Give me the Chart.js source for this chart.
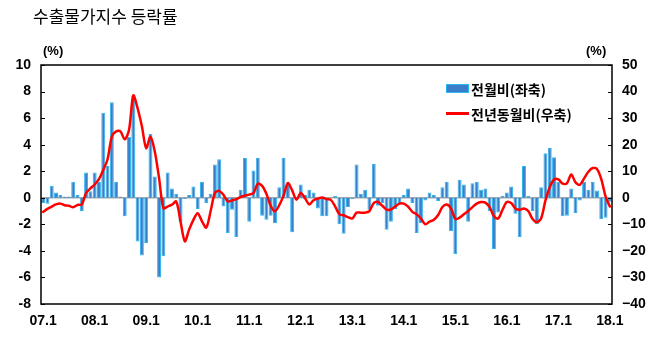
<!DOCTYPE html>
<html>
<head>
<meta charset="utf-8">
<script src="https://cdn.jsdelivr.net/npm/chart.js@4"></script>
<style>
  html, body { margin: 0; padding: 0; background: #fff; }
  #wrap { position: relative; width: 661px; height: 339px; overflow: hidden; }
  #title { position: absolute; left: 33px; top: 3px; font-family: 'Noto Sans CJK KR', sans-serif; font-size: 17px; font-weight: 400; color: #000; white-space: nowrap; }
  .unit { position: absolute; top: 43px; font-family: 'Liberation Sans', Arial, sans-serif; font-size: 13px; font-weight: bold; color: #000; }
  #legend { position: absolute; left: 446px; top: 76px; font-family: 'Noto Sans CJK KR', sans-serif; font-size: 14px; font-weight: bold; color: #000; }
  .lg { display: flex; align-items: center; height: 25px; white-space: nowrap; }
  .mk-bar { width: 21px; height: 7px; background: #3A7DC9; border: 1px solid #2DB7F0; margin-right: 2px; }
  .mk-line { width: 23px; height: 3px; background: #FF0000; margin-right: 2px; }
</style>
</head>
<body>
<div id="wrap">
  <canvas id="c" width="661" height="339"></canvas>
  <div id="title">수출물가지수 등락률</div>
  <div class="unit" style="left:43px;">(%)</div>
  <div class="unit" style="left:586px;">(%)</div>
  <div id="legend">
    <div class="lg"><span class="mk-bar"></span><span id="lg1"></span></div>
    <div class="lg"><span class="mk-line"></span><span id="lg2"></span></div>
  </div>
</div>
<script>
// ---- data ----
const startYear = 2007;
const monthCount = 133; // 2007.1 .. 2018.1
const categories = [];
for (let i = 0; i < monthCount; i++) {
  const y = startYear + Math.floor(i / 12);
  const m = (i % 12) + 1;
  categories.push(String(y % 100).padStart(2, '0') + '.' + m);
}
const seriesNames = ['전월비(좌축)', '전년동월비(우축)'];

// month-on-month change (left axis), %
const momChange = [
  -0.4, -0.45, 0.9, 0.4, 0.2, 0.1, 0.1, 1.2, 0.2, -1.0, 1.9, 0.5,
  1.9, 1.2, 6.4, 2.4, 7.2, 1.2, 0.1, -1.4, 4.6, 7.7, -3.3, -4.35,
  -3.4, 4.8, 1.6, -6.0, -4.4, 1.9, 0.7, 0.3, -1.8, -0.1, 0.2, 0.85,
  -0.85, 1.2, -0.4, 0.3, 2.5, 2.9, -0.65, -2.65, -0.9, -2.95, 0.6, 3.0,
  -1.8, 2.05, 3.0, -1.35, -1.65, -1.35, -1.9, 0.8, 3.0, 1.1, -2.6, 0.05,
  1.0, 0.2, 0.6, 0.4, -0.8, -1.4, -1.4, 0.0, 0.15, -2.0, -2.7, -0.7,
  -0.1, 2.5, 0.3, 0.6, -0.9, 2.55, -0.6, -0.4, -2.4, -1.8, -0.85, -0.5,
  0.2, 0.7, -0.4, -2.65, -1.9, -0.2, 0.4, 0.2, -0.25, 0.8, 1.2, -2.5,
  -4.25, 1.35, 1.0, -1.8, 1.1, 1.2, 0.6, 0.7, -1.0, -3.85, -1.1, 0.15,
  0.4, 0.85, -1.2, -2.95, 2.4, 0.15, -1.0, -2.0, 0.8, 3.35, 3.75, 3.05,
  1.2, -1.4, -1.35, 0.7, -1.15, -0.2, 1.2, 0.6, 1.2, 0.55, -1.6, -1.5,
  -0.3
];

// year-on-year change (right axis), %
const yoyChange = [
  -5.3, -4.2, -3.3, -2.5, -2.2, -2.8, -3.0, -3.6, -2.7, -2.5, 1.8, 3.5,
  5.0, 7.0, 10.5, 14.5, 23.0, 25.0, 25.0, 22.0, 25.5, 38.5, 33.7, 26.9,
  18.7, 23.0, 17.4, 7.4, -3.9, -3.3, -2.6, -1.4, -8.9, -16.4, -12.0, -8.3,
  -5.8, -8.9, -11.2, -5.1, 1.8, 2.6, 1.1, -1.4, -1.0, -0.5, 0.3, 0.8,
  1.2, 1.8, 5.3, 4.5, 1.5, -3.0, -5.1, -2.8, 0.8, 5.5, 2.8, -0.7,
  1.8, -0.2, -2.5, -0.9, -0.3, 0.1, -0.5, -0.8, -3.2, -6.2, -6.6, -7.3,
  -7.8, -5.6, -5.6, -5.6, -5.0, -2.0, -1.6, -3.0, -4.5, -4.4, -3.3, -2.2,
  -2.2, -3.3, -5.3, -6.2, -7.8, -10.0, -9.0, -8.3, -6.5, -3.5, -2.5, -4.0,
  -8.0, -7.5, -6.2, -5.0, -3.5, -2.2, -1.6, -1.8, -3.5, -7.0, -7.8, -4.5,
  -1.6, -2.0, -4.0, -4.5, -4.0, -5.0, -8.0, -9.2, -7.7, -1.0, 4.0, 6.9,
  6.9, 5.3, 5.4, 8.8, 5.8, 4.9, 7.3, 9.8, 11.2, 10.8, 7.0, 0.5,
  -3.3
];

const leftTicks = [-8, -6, -4, -2, 0, 2, 4, 6, 8, 10];
const rightTicks = [-40, -30, -20, -10, 0, 10, 20, 30, 40, 50];

document.getElementById('lg1').textContent = seriesNames[0];
document.getElementById('lg2').textContent = seriesNames[1];

// ---- styling plugins ----
const framePlugin = {
  id: 'frame',
  beforeDatasetsDraw(chart) {
    const { ctx, chartArea: a, scales } = chart;
    const y0 = scales.y.getPixelForValue(0);
    ctx.save();
    ctx.strokeStyle = '#A6A6A6';
    ctx.lineWidth = 1.5;
    ctx.beginPath(); ctx.moveTo(a.left, y0); ctx.lineTo(a.right, y0); ctx.stroke();
    ctx.restore();
  },
  afterDatasetsDraw(chart) {
    const { ctx, chartArea: a, scales } = chart;
    ctx.save();
    ctx.strokeStyle = '#000';
    ctx.lineWidth = 1.5;
    ctx.strokeRect(a.left, a.top, a.right - a.left, a.bottom - a.top);
    ctx.lineWidth = 1;
    leftTicks.forEach(v => {
      const p = Math.round(scales.y.getPixelForValue(v)) + 0.5;
      ctx.beginPath(); ctx.moveTo(a.left, p); ctx.lineTo(a.left + 4, p); ctx.stroke();
    });
    rightTicks.forEach(v => {
      const p = Math.round(scales.y1.getPixelForValue(v)) + 0.5;
      ctx.beginPath(); ctx.moveTo(a.right - 4, p); ctx.lineTo(a.right, p); ctx.stroke();
    });
    ctx.restore();
  }
};

const tickFont = { family: "'Liberation Sans', Arial, sans-serif", size: 14, weight: 'bold' };

new Chart(document.getElementById('c'), {
  data: {
    labels: categories,
    datasets: [
      {
        type: 'line', label: seriesNames[1], data: yoyChange, yAxisID: 'y1',
        borderColor: '#FF0000', borderWidth: 2.5, pointRadius: 0, tension: 0.3,
        order: 1, borderJoinStyle: 'round', borderCapStyle: 'round'
      },
      {
        type: 'bar', label: seriesNames[0], data: momChange, yAxisID: 'y',
        backgroundColor: '#3A7DC9', borderColor: '#2DB7F0', borderWidth: 1,
        barPercentage: 0.92, categoryPercentage: 1.0, order: 2
      }
    ]
  },
  options: {
    responsive: false,
    animation: false,
    layout: { padding: { top: 65, left: 0, right: 0, bottom: 0 } },
    plugins: { legend: { display: false }, tooltip: { enabled: false }, title: { display: false } },
    scales: {
      x: {
        type: 'category', offset: true,
        grid: { display: false, drawTicks: false },
        border: { display: false },
        ticks: {
          autoSkip: false, maxRotation: 0, minRotation: 0, padding: 9, color: '#000', font: tickFont,
          callback: function (v, i) { const l = categories[i]; return l.endsWith('.1') && l.split('.')[1] === '1' ? l : null; }
        },
        afterFit: s => { s.height = 35; }
      },
      y: {
        position: 'left', min: -8, max: 10,
        grid: { display: false, drawTicks: false },
        border: { display: false },
        afterBuildTicks: s => { s.ticks = leftTicks.map(v => ({ value: v })); },
        ticks: { padding: 10, color: '#000', font: tickFont },
        afterFit: s => { s.width = 41; }
      },
      y1: {
        position: 'right', min: -40, max: 50,
        grid: { display: false, drawTicks: false },
        border: { display: false },
        afterBuildTicks: s => { s.ticks = rightTicks.map(v => ({ value: v })); },
        ticks: { padding: 10, color: '#000', font: tickFont,
          callback: v => v < 0 ? '\u2212' + Math.abs(v) : String(v) },
        afterFit: s => { s.width = 49; }
      }
    }
  },
  plugins: [framePlugin]
});
</script>
</body>
</html>
